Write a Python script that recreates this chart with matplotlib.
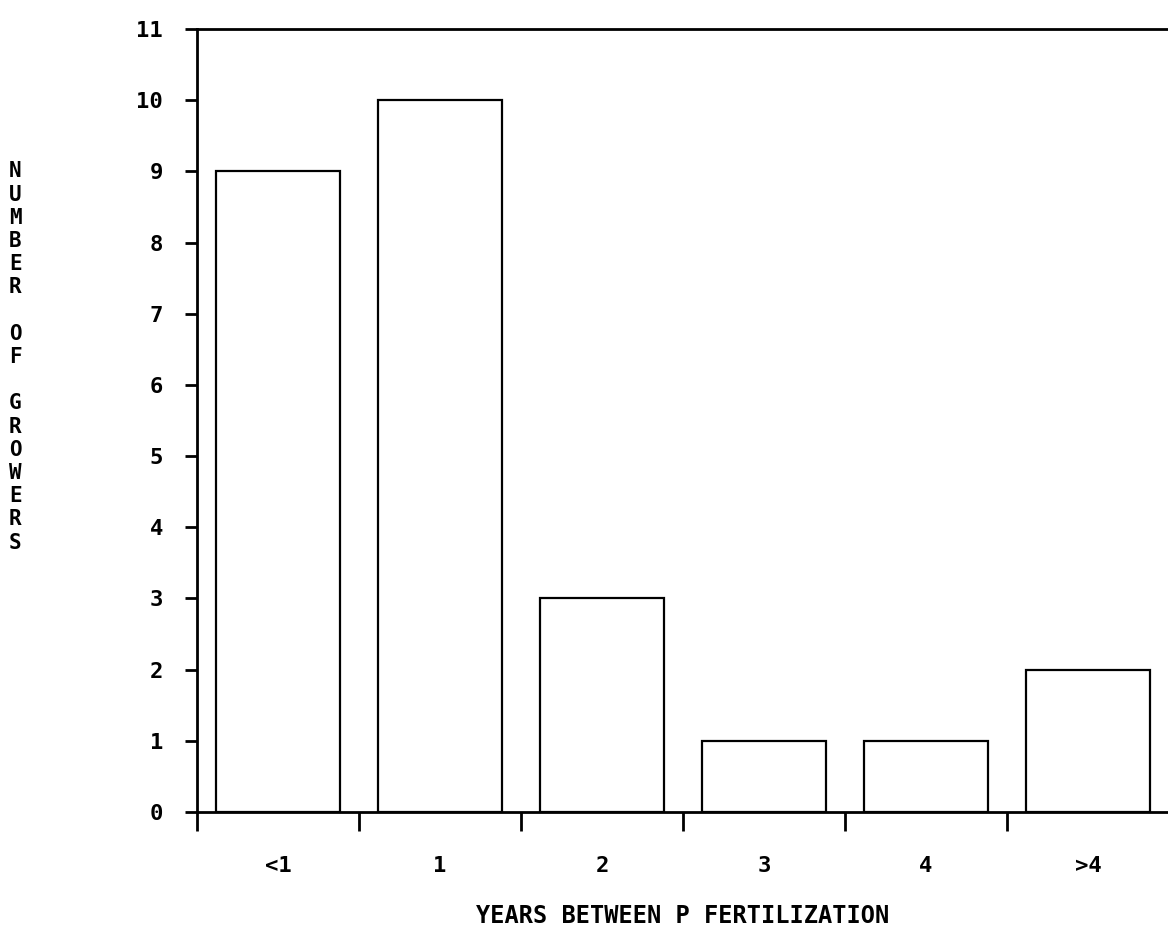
import matplotlib
matplotlib.use('Agg')
import matplotlib.pyplot as plt

categories = ['<1', '1', '2', '3', '4', '>4']
growers = [9, 10, 3, 1, 1, 2]
y_ticks = list(range(0, 12))

font = ['DejaVu Sans Mono']

fig = plt.figure(figsize=(11.68, 9.36), dpi=100)
ax = fig.add_axes([0.1687, 0.1325, 0.8313, 0.8365])

pos = [i + 0.5 for i in range(len(categories))]
ax.bar(pos, growers, width=0.76, facecolor='white', edgecolor='black', linewidth=1.6)

ax.set_xlim(0, 5.994)
ax.set_ylim(0, 11)

ax.spines['right'].set_visible(False)
for s in ['left', 'top', 'bottom']:
    ax.spines[s].set_linewidth(2.0)

# major ticks at boundaries, labels on minor ticks at bar centres
ax.set_xticks(range(0, 6))
ax.set_xticklabels([])
ax.set_xticks(pos, minor=True)
ax.set_xticklabels(categories, minor=True, fontsize=16, fontweight='bold', family=font)
ax.tick_params(axis='x', which='major', direction='out', length=14, width=2)
ax.tick_params(axis='x', which='minor', length=0, pad=32)

ax.set_yticks(y_ticks)
ax.set_yticklabels([str(v) for v in y_ticks], fontsize=16, fontweight='bold', family=font)
ax.tick_params(axis='y', direction='out', length=8.5, width=2, pad=16)

ax.set_xlabel('YEARS BETWEEN P FERTILIZATION', fontsize=17, fontweight='bold',
              family=font, labelpad=20)

ylab = '\n'.join('NUMBER') + '\n\n' + '\n'.join('OF') + '\n\n' + '\n'.join('GROWERS')
fig.text(0.013, 1 - 357 / 936, ylab, fontsize=15, fontweight='bold', family=font,
         ha='center', va='center', linespacing=1.2)

fig.savefig('out.png', dpi=100)
